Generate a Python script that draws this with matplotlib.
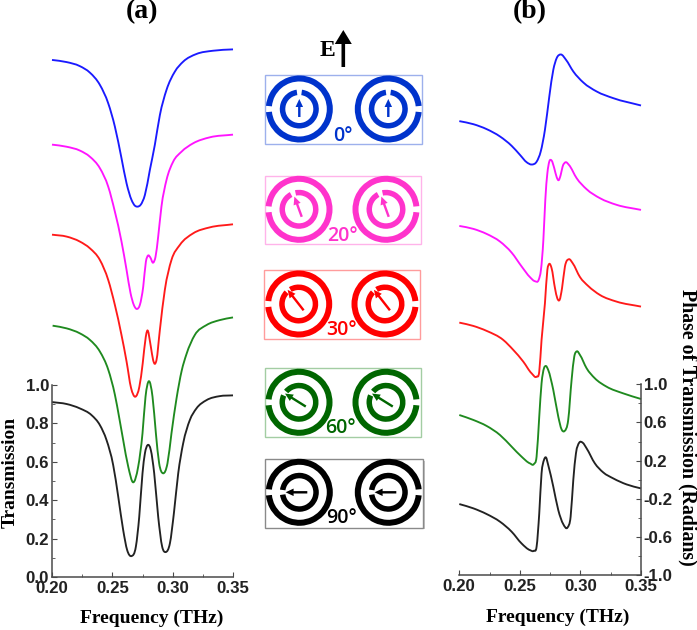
import matplotlib
matplotlib.use("Agg")
import matplotlib.pyplot as plt
from matplotlib.patches import Wedge, Rectangle, FancyArrow, PathPatch
from matplotlib.path import Path
from matplotlib.ticker import MultipleLocator, FixedLocator, FormatStrFormatter
import numpy as np

W, H = 697, 630
SERIF = "Liberation Serif"
SANS = "Liberation Sans"

# Panel (a): transmission, curves stacked with vertical offsets as drawn
t_blue_f = [.2,.212,.223,.2314,.2397,.2466,.2521,.2576,.2618,.2659,.2687,.2709,.2734,.277,.2811,.2852,.2894,.2949,.3018,.3087,.3197,.3335,.35]
t_blue_v = [2.693,2.682,2.661,2.627,2.563,2.467,2.346,2.181,2.05,1.964,1.934,1.929,1.938,1.99,2.12,2.25,2.406,2.537,2.632,2.684,2.724,2.741,2.748]
t_mag_f = [.2,.2121,.2231,.2314,.2397,.2466,.2521,.2576,.2618,.2651,.2678,.2703,.2728,.2756,.2778,.2797,.2814,.2838,.2858,.288,.2907,.2949,.3004,.3073,.317,.3308,.35]
t_mag_v = [2.252,2.241,2.221,2.189,2.129,2.033,1.903,1.747,1.599,1.478,1.417,1.396,1.417,1.512,1.642,1.675,1.665,1.637,1.668,1.773,1.929,2.068,2.163,2.215,2.259,2.29,2.304]
t_red_f = [.2,.2121,.2231,.2314,.2397,.2466,.2521,.2576,.2618,.2655,.2691,.2724,.2752,.2777,.2789,.2819,.2838,.2852,.2866,.2894,.2935,.299,.3059,.317,.3308,.35]
t_red_v = [1.783,1.773,1.747,1.712,1.651,1.547,1.417,1.26,1.122,.985,.939,.991,1.114,1.25,1.283,1.2,1.13,1.11,1.13,1.287,1.495,1.651,1.729,1.79,1.821,1.837]
t_green_f = [.2005,.2121,.2231,.2314,.2397,.2466,.2521,.2557,.259,.2632,.2673,.2714,.275,.2775,.2803,.2833,.2861,.2888,.2921,.2957,.299,.3032,.3075,.3114,.3183,.328,.339,.35]
t_green_v = [1.309,1.295,1.269,1.235,1.174,1.08,.95,.83,.713,.574,.493,.574,.748,.939,1.02,.939,.748,.592,.54,.592,.748,.93,1.075,1.16,1.26,1.312,1.338,1.352]
t_black_f = [.2,.2121,.2231,.2328,.2397,.2452,.2507,.2549,.259,.2623,.2659,.2695,.2723,.275,.277,.2792,.2819,.2847,.288,.2913,.2943,.2977,.301,.3046,.3087,.3142,.3197,.328,.339,.35]
t_black_v = [.911,.901,.878,.843,.791,.713,.583,.418,.244,.14,.109,.158,.314,.54,.644,.687,.661,.54,.314,.158,.13,.175,.331,.54,.696,.817,.878,.921,.942,.946]

# Panel (b): phase, stacked in the same way
p_blue_f = [.2,.2116,.2226,.2336,.2432,.2501,.2556,.2597,.2639,.2672,.2707,.2743,.2776,.2804,.2839,.2881,.2941,.3024,.3134,.3271,.35]
p_blue_v = [3.76,3.728,3.676,3.599,3.501,3.406,3.329,3.305,3.336,3.441,3.669,4.018,4.298,4.421,4.459,4.403,4.281,4.165,4.071,4.001,3.924]
p_mag_f = [.2,.2116,.2226,.2336,.2432,.2515,.2584,.2625,.2655,.2674,.2694,.271,.2727,.2743,.2762,.2784,.2804,.282,.2837,.2853,.2878,.2905,.2969,.3051,.3161,.3299,.35]
p_mag_v = [2.661,2.63,2.577,2.497,2.381,2.235,2.123,2.081,2.095,2.2,2.514,2.934,3.214,3.336,3.347,3.266,3.172,3.14,3.196,3.284,3.329,3.301,3.161,3.046,2.952,2.882,2.829]
p_red_f = [.2,.2116,.2226,.2363,.2446,.2528,.2597,.2638,.266,.2679,.2707,.2727,.2743,.2762,.279,.2809,.2828,.2848,.2872,.2905,.2936,.2996,.3065,.3161,.3299,.35]
p_red_v = [1.647,1.612,1.56,1.465,1.36,1.238,1.115,1.08,1.133,1.465,1.85,2.2,2.263,2.217,2.007,1.902,1.885,2.007,2.235,2.312,2.27,2.125,2.03,1.937,1.867,1.815]
p_green_f = [.2,.2116,.2226,.2336,.2432,.2514,.2583,.2616,.2638,.266,.2679,.2699,.2715,.2734,.2776,.2817,.2844,.2869,.2899,.2927,.2949,.2971,.2996,.3051,.3119,.3216,.3353,.35]
p_green_v = [.678,.626,.563,.468,.346,.241,.171,.164,.241,.661,1.01,1.168,1.192,1.15,.94,.661,.528,.51,.626,1.045,1.29,1.346,1.308,1.168,1.063,.975,.905,.846]
p_black_f = [.2,.2116,.2226,.2336,.2432,.2514,.2583,.2616,.2638,.266,.2679,.2699,.2715,.2734,.2776,.2817,.2858,.2894,.2919,.2941,.2963,.299,.3018,.3051,.3119,.3188,.3271,.3381,.35]
p_black_v = [-.256,-.301,-.361,-.441,-.546,-.669,-.739,-.746,-.704,-.354,.066,.206,.234,.153,-.074,-.319,-.466,-.501,-.389,-.004,.276,.388,.388,.328,.171,.076,.013,-.05,-.092]

curve_colors = ["#1a1aff", "#ff14ff", "#ff1a1a", "#1f8a1f", "#222222"]
x_ticks = [0.20, 0.25, 0.30, 0.35]
t_ticks = [0.0, 0.2, 0.4, 0.6, 0.8, 1.0]
p_ticks = [-1.0, -0.6, -0.2, 0.2, 0.6, 1.0]

# Schematic panels in the middle
icon_labels = ["0°", "20°", "30°", "60°", "90°"]
icon_angles = [0, 20, 38, 58, 90]
icon_tips = [10, 13.5, 18, 16.5, 13.7]
icon_colors = ["#0033cc", "#ff33cc", "#ff0000", "#006600", "#000000"]
icon_edges = ["#9db0ec", "#ffb3ea", "#ff9c9c", "#a3cda3", "#8a8a8a"]
icon_boxes = [(265, 75.3, 422.3, 144), (265, 175.7, 421, 244.3), (264.3, 270, 420.3, 339),
              (265, 368, 421, 437), (265, 459, 423, 527.7)]
icon_left = [(299.3, 109), (299, 209.3), (298.7, 304), (299, 402.3), (299.3, 492.3)]
icon_right = [(388.3, 109), (386, 209.3), (385, 304), (386, 402.3), (388.3, 492.3)]
icon_text = [(342.7, 135.7), (342, 236), (341.7, 330), (340.7, 427.7), (341.7, 518.3)]

fig = plt.figure(figsize=(W / 100, H / 100), dpi=100, facecolor="white")


def axes_px(x0, x1, ytop, ybot):
    return fig.add_axes([x0 / W, 1 - ybot / H, (x1 - x0) / W, (ybot - ytop) / H], facecolor="none")


# overlay for the schematic
ov = fig.add_axes([0, 0, 1, 1], facecolor="none")
ov.set_xlim(0, W)
ov.set_ylim(H, 0)
ov.axis("off")


def ring(cx, cy, r, w, gap_dir, gap_half, color):
    # y axis is inverted in the overlay, so screen angle a maps to -a
    a = gap_dir
    ov.add_patch(Wedge((cx, cy), r, -a + gap_half, -a - gap_half + 360, width=w, fc=color, ec="none"))


def icon(cx, cy, side, angle, tip, color):
    ring(cx, cy, 33.5, 6, 180 if side == "l" else 0, 5.5, color)
    ring(cx, cy, 19.5, 5.5, 90 + angle, 8, color)
    rad = np.deg2rad(90 + angle)
    ux, uy = np.cos(rad), -np.sin(rad)
    ov.add_patch(FancyArrow(cx - 8 * ux, cy - 8 * uy, (tip + 8) * ux, (tip + 8) * uy, width=2.4,
                            head_width=7.5, head_length=8, length_includes_head=True, fc=color, ec="none"))


for i in range(5):
    x0, y0, x1, y1 = icon_boxes[i]
    if i == 4:
        ov.add_patch(Rectangle((x0 + 1.5, y0 + 1.5), x1 - x0, y1 - y0, fc="#c4c4c4", ec="none"))
    ov.add_patch(Rectangle((x0, y0), x1 - x0, y1 - y0, fc="white", ec=icon_edges[i], lw=1.0))
    icon(*icon_left[i], "l", icon_angles[i], icon_tips[i], icon_colors[i])
    icon(*icon_right[i], "r", icon_angles[i], icon_tips[i], icon_colors[i])
    tx, ty = icon_text[i]
    ov.text(tx, ty, icon_labels[i], color=icon_colors[i], family="Open Sans", weight="semibold",
            fontsize=14, ha="center", va="center")

ov.add_patch(FancyArrow(343.3, 67, 0, -37, width=3.6, head_width=17, head_length=14,
                        length_includes_head=True, fc="black", ec="none"))
ov.text(327, 51, "E", family=SERIF, weight="bold", fontsize=17, ha="center", va="center")
ov.text(142, 12, "(a)", family=SERIF, weight="bold", fontsize=20, ha="center", va="center")
ov.text(530, 12, "(b)", family=SERIF, weight="bold", fontsize=20, ha="center", va="center")

axis_color = "#4a4a4a"


def smooth_curve(ax, fx, vy, color):
    # Bezier path through the read points, with finite-difference tangents
    x = np.asarray(fx, float)
    y = np.asarray(vy, float)
    m = np.gradient(y, x)
    verts = [(x[0], y[0])]
    codes = [Path.MOVETO]
    for i in range(len(x) - 1):
        h = (x[i + 1] - x[i]) / 3
        verts += [(x[i] + h, y[i] + m[i] * h), (x[i + 1] - h, y[i + 1] - m[i + 1] * h), (x[i + 1], y[i + 1])]
        codes += [Path.CURVE4] * 3
    ax.add_patch(PathPatch(Path(verts, codes), fc="none", ec=color, lw=1.35, clip_on=False,
                           joinstyle="round", capstyle="butt"))


def style(ax, side):
    for s in ax.spines.values():
        s.set_visible(False)
    ax.spines["bottom"].set_visible(True)
    ax.spines[side].set_visible(True)
    for s in ("bottom", side):
        ax.spines[s].set_color(axis_color)
        ax.spines[s].set_linewidth(1.1)
    ax.set_xlim(0.20, 0.35)
    ax.xaxis.set_major_locator(FixedLocator(x_ticks))
    ax.xaxis.set_minor_locator(MultipleLocator(0.025))
    ax.xaxis.set_major_formatter(FormatStrFormatter("%.2f"))
    ax.yaxis.set_major_formatter(FormatStrFormatter("%.1f"))
    ax.tick_params(axis="both", which="major", direction="in", length=3.5, width=0.8, color=axis_color)
    ax.tick_params(axis="both", which="minor", direction="in", length=2, width=0.6, color=axis_color)
    ax.tick_params(axis="x", pad=3)
    ax.tick_params(axis="y", pad=2)
    for lab in ax.get_xticklabels() + ax.get_yticklabels():
        lab.set_family(SANS)
        lab.set_weight("bold")
        lab.set_size(12.2)
        lab.set_color("#222222")


# Panel (a)
a = axes_px(52, 233, 385, 577)
a.set_ylim(0, 1)
a.yaxis.set_major_locator(FixedLocator(t_ticks))
a.yaxis.set_minor_locator(MultipleLocator(0.1))
a.yaxis.tick_left()
style(a, "left")
t_series = [(t_blue_f, t_blue_v), (t_mag_f, t_mag_v), (t_red_f, t_red_v), (t_green_f, t_green_v), (t_black_f, t_black_v)]
for (f, v), c in zip(t_series, curve_colors):
    smooth_curve(a, f, v, c)
a.set_xlabel("Frequency (THz)", family=SERIF, weight="bold", fontsize=14)
a.xaxis.set_label_coords((151.7 - 52) / 181, -(618 - 577) / 192)
a.xaxis.label.set_va("center")
a.set_ylabel("Transmission", family=SERIF, weight="bold", fontsize=14)
a.yaxis.set_label_coords((10 - 52) / 181, (577 - 472) / 192)
a.yaxis.label.set_va("center")

# Panel (b)
b = axes_px(459.3, 641, 384.3, 575)
b.set_ylim(-1, 1)
b.yaxis.set_major_locator(FixedLocator(p_ticks))
b.yaxis.set_minor_locator(MultipleLocator(0.2))
b.yaxis.tick_right()
style(b, "right")
p_series = [(p_blue_f, p_blue_v), (p_mag_f, p_mag_v), (p_red_f, p_red_v), (p_green_f, p_green_v), (p_black_f, p_black_v)]
for (f, v), c in zip(p_series, curve_colors):
    smooth_curve(b, f, v, c)
b.set_xlabel("Frequency (THz)", family=SERIF, weight="bold", fontsize=14)
b.xaxis.set_label_coords((558 - 459.3) / 181.7, -(617 - 575) / 190.7)
b.xaxis.label.set_va("center")
b.yaxis.set_label_position("right")
b.set_ylabel("Phase of Transmission (Radians)", family=SERIF, weight="bold", fontsize=14.3, rotation=270)
b.yaxis.set_label_coords((688 - 459.3) / 181.7, (575 - 427) / 190.7)
b.yaxis.label.set_va("center")

fig.savefig("out.png", dpi=100)
